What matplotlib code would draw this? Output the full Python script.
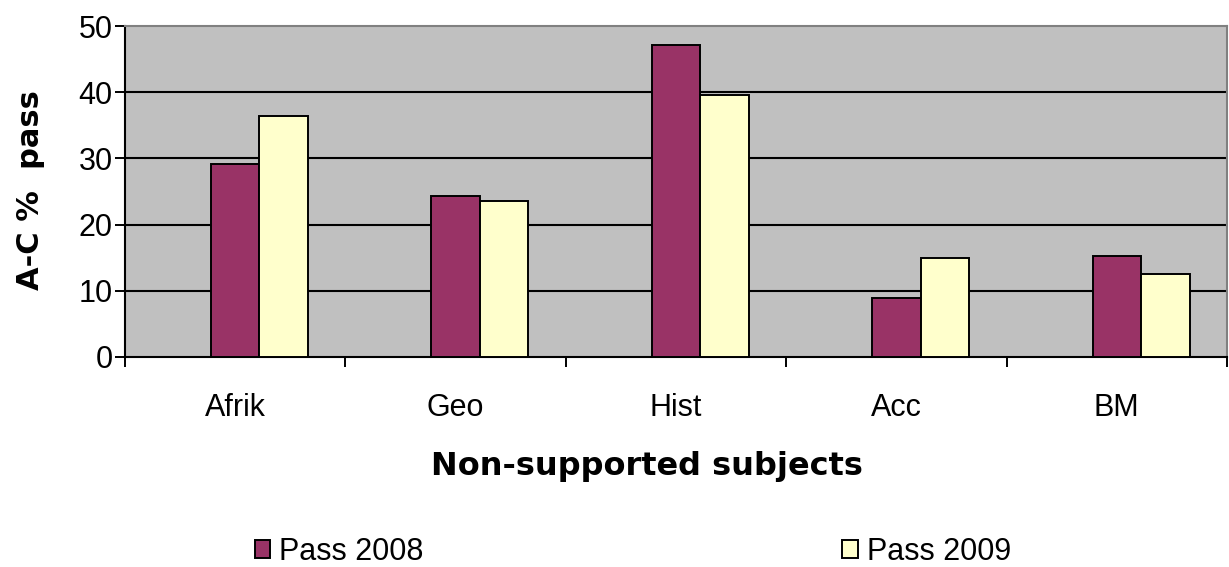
import numpy as np
import matplotlib
matplotlib.use("Agg")
import matplotlib.pyplot as plt

# A-C pass rates per non-supported subject
subjects = ["Afrik", "Geo", "Hist", "Acc", "BM"]
pass_2008 = [29.2, 24.3, 47.2, 8.9, 15.2]
pass_2009 = [36.4, 23.6, 39.6, 15.0, 12.6]

narrow = ["Liberation Sans Narrow", "Liberation Sans", "DejaVu Sans"]
bold = ["DejaVu Sans"]

fig = plt.figure(figsize=(12.29, 5.67), dpi=100)
ax = fig.add_axes([125 / 1229, 1 - 357 / 567, 1102 / 1229, 331 / 567])
ax.set_facecolor("#C0C0C0")

x = np.arange(len(subjects))
w = 0.22
ax.bar(x, pass_2008, w, color="#993366", edgecolor="black", linewidth=1.4,
       label="Pass 2008", zorder=3)
ax.bar(x + w, pass_2009, w, color="#FFFFCC", edgecolor="black", linewidth=1.4,
       label="Pass 2009", zorder=3)

ax.set_xlim(-0.5, len(subjects) - 0.5)
ax.set_ylim(0, 50)
ax.set_yticks(range(0, 51, 10))
ax.set_yticklabels([str(v) for v in range(0, 51, 10)], family=narrow, fontsize=22)

# ticks sit between categories, labels in the middle
ax.set_xticks(np.arange(-0.5, len(subjects), 1.0))
ax.set_xticklabels([])
ax.set_xticks(x, minor=True)
ax.set_xticklabels(subjects, minor=True, family=narrow, fontsize=22)
ax.tick_params(axis="x", which="major", direction="out", length=7, width=1.4)
ax.tick_params(axis="x", which="minor", length=0, pad=26)
ax.tick_params(axis="y", direction="out", length=7, width=1.4, pad=2)

for v in range(10, 50, 10):
    ax.axhline(v, color="black", linewidth=1.5, zorder=1)

for side in ["left", "bottom"]:
    ax.spines[side].set_color("black")
    ax.spines[side].set_linewidth(1.5)
for side in ["top", "right"]:
    ax.spines[side].set_color("#808080")
    ax.spines[side].set_linewidth(1.5)

ax.set_xlabel("Non-supported subjects", family=bold, fontweight="bold",
              fontsize=23, va="center")
ax.xaxis.set_label_coords(0.474, -0.332)
ax.set_ylabel("A-C %  pass", family=bold, fontweight="bold", fontsize=22,
              va="center")
ax.yaxis.set_label_coords(-0.086, 0.505)

leg = fig.legend(loc="center left", bbox_to_anchor=(255 / 1229, 1 - 552 / 567),
                 ncol=2, frameon=False, prop={"family": narrow, "size": 22},
                 handlelength=0.5, handleheight=0.55, handletextpad=0.3,
                 columnspacing=13.7, borderpad=0, borderaxespad=0)

fig.savefig("out.png", dpi=100)
